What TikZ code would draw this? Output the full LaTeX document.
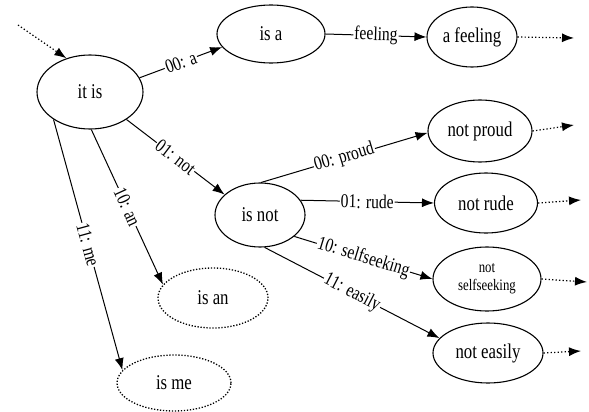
\documentclass[tikz,border=0pt]{standalone}
\usepackage{fontspec}
\setmainfont{Liberation Serif}[FakeStretch=0.8]
\usetikzlibrary{shapes.geometric,arrows.meta}
\begin{document}
\begin{tikzpicture}[x=1pt,y=-1pt,
  st/.style={ellipse,draw,line width=1.1pt,inner sep=0pt,align=center,
    font=\fontsize{21}{21}\selectfont},
  dst/.style={st,dash pattern=on 1.3pt off 1.7pt,line width=1.3pt},
  tr/.style={line width=1pt,-{Latex[length=12pt,width=9pt]}},
  dtr/.style={tr,dash pattern=on 1.3pt off 2.2pt,line width=1.2pt},
  lab/.style={sloped,fill=white,inner sep=1pt,font=\fontsize{19.5}{20}\selectfont}]
\useasboundingbox (0,0) rectangle (589,412);
\node[st,minimum width=106pt,minimum height=74pt] (itis) at (90,92) {it is};
\node[st,minimum width=108pt,minimum height=58pt] (isa) at (271,34) {is a};
\node[st,minimum width=90pt,minimum height=60pt] (afeeling) at (472,37) {a feeling};
\node[st,minimum width=90pt,minimum height=64pt] (isnot) at (260,215) {is not};
\node[dst,minimum width=110pt,minimum height=60pt] (isan) at (213,298) {is an};
\node[dst,minimum width=114pt,minimum height=56pt] (isme) at (174,383) {is me};
\node[st,minimum width=104pt,minimum height=62pt] (notproud) at (480,131) {not proud};
\node[st,minimum width=103pt,minimum height=60pt] (notrude) at (486,203) {not rude};
\node[st,minimum width=108pt,minimum height=64pt,font=\fontsize{16}{18}\selectfont] (notself) at (487,279) {not\\selfseeking};
\node[st,minimum width=110pt,minimum height=60pt] (noteasily) at (488,353) {not easily};

\coordinate (in) at (18,25);
\coordinate (o1) at (574,38);
\coordinate (o2) at (574,125);
\coordinate (o3) at (581,200);
\coordinate (o4) at (587,282);
\coordinate (o5) at (581,351);

\draw[dtr] (in) -- (itis.125);
\draw[tr] (itis.16) -- node[lab]{00: a} (isa.195);
\draw[tr] (itis.323) -- node[lab]{01: not} (isnot.150);
\draw[tr] (itis.272) -- node[lab]{10: an} (isan.165);
\draw[tr] (itis.217) -- node[lab]{11: me} (isme.166);
\draw[tr] (isa.0) -- node[lab]{feeling} (afeeling.180);
\draw[tr] (isnot.88) -- node[lab]{00: proud} (notproud.182);
\draw[tr] (isnot.20) -- node[lab]{01: rude} (notrude.180);
\draw[tr] (isnot.328) -- node[lab]{10: selfseeking} (notself.180);
\draw[tr] (isnot.278) -- node[lab]{11: easily} (noteasily.163);
\draw[dtr] (afeeling.0) -- (o1);
\draw[dtr] (notproud.0) -- (o2);
\draw[dtr] (notrude.0) -- (o3);
\draw[dtr] (notself.0) -- (o4);
\draw[dtr] (noteasily.0) -- (o5);
\end{tikzpicture}
\end{document}
